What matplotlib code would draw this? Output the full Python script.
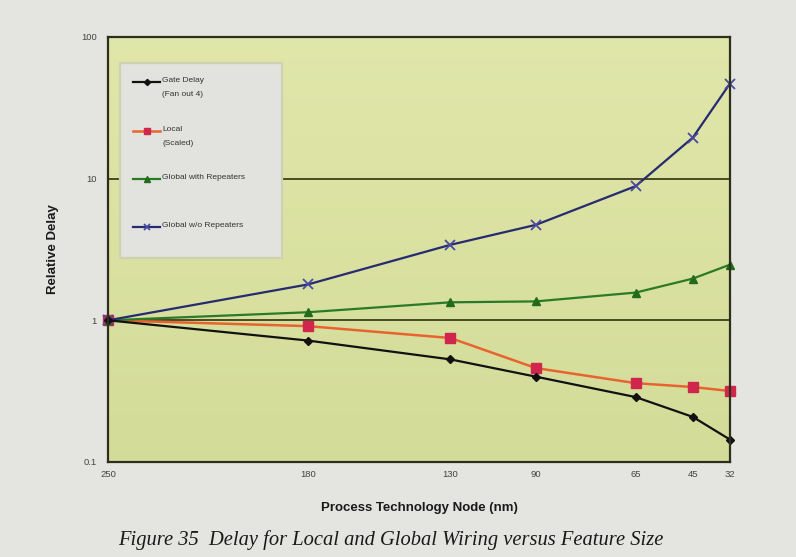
import numpy as np
import matplotlib
matplotlib.use("Agg")
import matplotlib.pyplot as plt
from matplotlib.patches import Rectangle
from matplotlib.ticker import FixedLocator, NullLocator

plt.rcParams["font.family"] = ["Liberation Sans", "DejaVu Sans"]

# data
node_x = [250, 180, 130, 100, 65, 45, 32]          # x position used by the original plot
node_labels = ["250", "180", "130", "90", "65", "45", "32"]
gate_delay = [1.0, 0.72, 0.53, 0.40, 0.287, 0.208, 0.144]
local_scaled = [1.0, 0.91, 0.75, 0.46, 0.36, 0.338, 0.317]
global_rep = [1.0, 1.14, 1.34, 1.36, 1.57, 1.97, 2.47]
global_norep = [1.0, 1.79, 3.41, 4.72, 8.86, 19.5, 46.9]
series_names = ["Gate Delay\n(Fan out 4)", "Local\n(Scaled)",
                "Global with Repeaters", "Global w/o Repeaters"]

fig = plt.figure(figsize=(7.96, 5.57), dpi=100, facecolor="#e4e5e1")
ax = fig.add_axes([0.1357, 0.1706, 0.7813, 0.763])

# yellow-green gradient background of the plot area
grad = np.linspace(0, 1, 256).reshape(-1, 1)
top = np.array([0.878, 0.904, 0.665])
bot = np.array([0.830, 0.862, 0.600])
img = top + (bot - top) * grad[:, :, None] * np.ones((1, 2, 1))
ax.imshow(img, extent=[0, 1, 0, 1], transform=ax.transAxes, aspect="auto", zorder=0)

ax.set_yscale("log")
ax.set_ylim(0.1, 100)
ax.set_xlim(250, 32)

# horizontal gridlines at the decades
for yv in [1, 10, 100]:
    ax.axhline(yv, color="#4b4a22", lw=1.4, zorder=1)

styles = [
    dict(color="#111111", lw=1.6, marker="D", ms=4.5, mfc="#111111", mec="#111111"),
    dict(color="#e8642e", lw=1.8, marker="s", ms=6.5, mfc="#d0264e", mec="#d0264e"),
    dict(color="#2b7a25", lw=1.6, marker="^", ms=6, mfc="#226a1c", mec="#226a1c"),
    dict(color="#262a70", lw=1.6, marker="x", ms=6.5, mew=1.3, mec="#4a4aa0"),
]
all_series = [gate_delay, local_scaled, global_rep, global_norep]
for vals, st, z in zip(all_series, styles, [5, 4, 4, 4]):
    ax.plot(node_x, vals, zorder=z, clip_on=False, **st)

ax.yaxis.set_major_locator(FixedLocator([0.1, 1, 10, 100]))
ax.yaxis.set_minor_locator(NullLocator())
ax.set_yticklabels(["0.1", "1", "10", "100"])
ax.set_xticks(node_x)
ax.set_xticklabels(node_labels)
ax.tick_params(axis="both", length=0, labelsize=6.8, labelcolor="#444444")
ax.tick_params(axis="y", pad=8)
ax.tick_params(axis="x", pad=6)

for s in ax.spines.values():
    s.set_color("#2e2e1c")
    s.set_linewidth(1.6)
    s.set_zorder(6)

ax.set_ylabel("Relative Delay", fontsize=9.5, fontweight="bold", color="#1a1a1a", labelpad=16)
ax.set_xlabel("Process Technology Node (nm)", fontsize=9.5, fontweight="bold",
              color="#1a1a1a", labelpad=16)

# legend box drawn by hand so two-line labels sit like the original
ax.add_patch(Rectangle((0.0193, 0.48), 0.2604, 0.4588, transform=ax.transAxes,
                       facecolor="#e2e3de", edgecolor="#cdd2b0", lw=1.6, zorder=7))
entry_y = [0.894, 0.7788, 0.666, 0.553]
for name, st, ey in zip(series_names, styles, entry_y):
    line_st = {k: v for k, v in st.items() if k in ("color", "lw")}
    mark_st = {k: v for k, v in st.items() if k not in ("color", "lw")}
    mark_st["ms"] = st["ms"] * 0.7
    ax.plot([0.040, 0.084], [ey, ey], transform=ax.transAxes, zorder=8, **line_st)
    ax.plot([0.062], [ey], transform=ax.transAxes, zorder=9, ls="none", **mark_st)
    ax.text(0.087, ey + 0.012, name, transform=ax.transAxes, fontsize=6,
            color="#333333", va="top", ha="left", linespacing=2.5, zorder=9)

fig.text(0.148, 1 - 540 / 557, "Figure 35  Delay for Local and Global Wiring versus Feature Size",
         fontsize=14.8, style="italic", family="Liberation Serif", color="#1a1a1a",
         va="center")

fig.savefig("out.png", dpi=100, facecolor=fig.get_facecolor())
